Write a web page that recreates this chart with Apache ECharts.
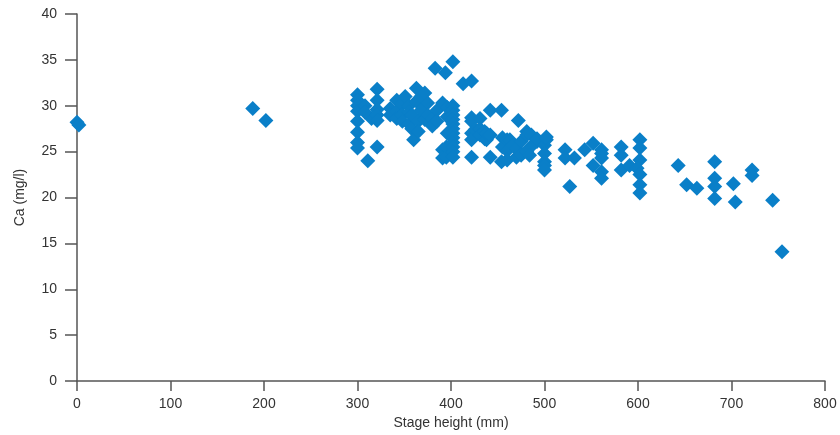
<!DOCTYPE html>
<html lang="en">
<head>
  <meta charset="utf-8">
  <title>Ca vs stage height</title>
  <script src="https://cdn.jsdelivr.net/npm/echarts@6/dist/echarts.min.js"></script>
  <style>
    html, body { margin: 0; padding: 0; background: #fff; }
    #chart { width: 840px; height: 435px; }
  </style>
</head>
<body>
<div id="chart"></div>
<script>
// stage height (mm) and Ca (mg/l)
var stageHeight = [
  0, 2, 188, 202,
  300, 300, 300, 300, 300, 300, 300, 300,
  311, 315, 308, 308,
  321, 321, 321, 321, 321, 321,
  335, 335, 342, 342, 342, 348, 348, 348, 351,
  355, 355, 355, 358, 358, 360, 363, 363, 365, 365,
  368, 368, 372, 372, 375, 375, 380, 380, 383, 385, 385,
  391, 391, 391, 394, 395, 395, 396, 396, 396,
  402, 402, 402, 402, 402, 402, 402, 402, 402, 402, 402, 402, 402,
  413, 422, 422, 422, 422, 422, 422, 426, 431, 431, 431,
  436, 436, 438, 438, 442, 442, 442, 454, 454, 455, 455,
  460, 460, 460, 463, 466, 470, 470, 472, 475, 475,
  481, 481, 481, 484, 484, 486, 492, 492,
  500, 500, 500, 500, 500, 502, 502,
  522, 522, 527, 532, 543, 552, 552,
  561, 561, 561, 561, 561, 582, 582, 582, 591,
  602, 602, 602, 599, 602, 602, 602,
  643, 652, 663, 682, 682, 682, 682, 702, 704, 722, 722, 744, 754
];
var calcium = [
  28.2, 27.9, 29.7, 28.4,
  31.2, 30.6, 30.0, 29.4, 28.3, 27.1, 26.0, 25.4,
  24.0, 28.6, 30.0, 29.3,
  31.8, 30.6, 29.6, 29.0, 28.4, 25.5,
  29.7, 29.0, 30.6, 29.4, 28.6, 30.2, 29.0, 28.3, 31.0,
  30.0, 29.3, 28.0, 29.0, 27.5, 26.3, 31.9, 30.5, 28.3, 27.2,
  31.0, 29.5, 31.4, 28.5, 30.3, 29.0, 28.6, 27.8, 34.1, 29.5, 28.3,
  30.3, 25.2, 24.3, 33.6, 25.5, 24.4, 28.8, 29.8, 27.0,
  34.8, 30.0, 29.5, 29.0, 28.5, 28.0, 27.5, 27.0, 26.5, 26.0, 25.5, 25.0, 24.4,
  32.4, 32.7, 28.7, 28.3, 27.0, 26.3, 24.4, 27.4, 28.6, 27.5, 26.8,
  27.2, 26.4, 26.3, 27.0, 29.5, 26.8, 24.4, 29.5, 23.9, 26.5, 25.5,
  26.3, 25.1, 24.1, 26.3, 25.7, 24.4, 25.3, 28.4, 26.1, 24.6,
  27.2, 26.8, 25.0, 25.4, 24.6, 26.8, 26.1, 26.4,
  25.7, 24.8, 23.9, 23.5, 23.0, 26.3, 26.6,
  25.2, 24.3, 21.2, 24.3, 25.2, 25.9, 23.5,
  25.2, 24.8, 24.3, 22.8, 22.1, 25.5, 24.6, 23.0, 23.5,
  26.3, 25.4, 24.1, 23.2, 22.5, 21.4, 20.5,
  23.5, 21.4, 21.0, 23.9, 22.1, 21.2, 19.9, 21.5, 19.5, 23.0, 22.4, 19.7, 14.1
];
var xTicks = [0, 100, 200, 300, 400, 500, 600, 700, 800];
var yTicks = [0, 5, 10, 15, 20, 25, 30, 35, 40];

var points = stageHeight.map(function (h, i) { return [h, calcium[i]]; });

var chart = echarts.init(document.getElementById('chart'));
var axisCol = '#555';
var textStyle = { color: '#333', fontFamily: 'Liberation Sans, Arial, sans-serif', fontSize: 14 };

chart.setOption({
  animation: false,
  grid: { left: 77, right: 15, top: 14, bottom: 54, containLabel: false, outerBoundsMode: 'none' },
  xAxis: {
    type: 'value',
    min: xTicks[0], max: xTicks[xTicks.length - 1], interval: 100,
    name: 'Stage height (mm)', nameLocation: 'middle', nameGap: 35,
    nameTextStyle: textStyle,
    axisLine: { lineStyle: { color: axisCol, width: 1.5 } },
    axisTick: { length: 10, lineStyle: { color: axisCol, width: 1.5 } },
    axisLabel: Object.assign({ margin: 16 }, textStyle),
    splitLine: { show: false }
  },
  yAxis: {
    type: 'value',
    min: yTicks[0], max: yTicks[yTicks.length - 1], interval: 5,
    name: 'Ca (mg/l)', nameLocation: 'middle', nameGap: 50,
    nameTextStyle: textStyle,
    axisLine: { show: true, lineStyle: { color: axisCol, width: 1.5 } },
    axisTick: { show: true, length: 12, lineStyle: { color: axisCol, width: 1.5 } },
    axisLabel: Object.assign({ margin: 20 }, textStyle),
    splitLine: { show: false }
  },
  series: [{
    type: 'scatter',
    symbol: 'diamond',
    symbolSize: 15,
    itemStyle: { color: '#0a7fc8', opacity: 1 },
    data: points
  }]
});
</script>
</body>
</html>
